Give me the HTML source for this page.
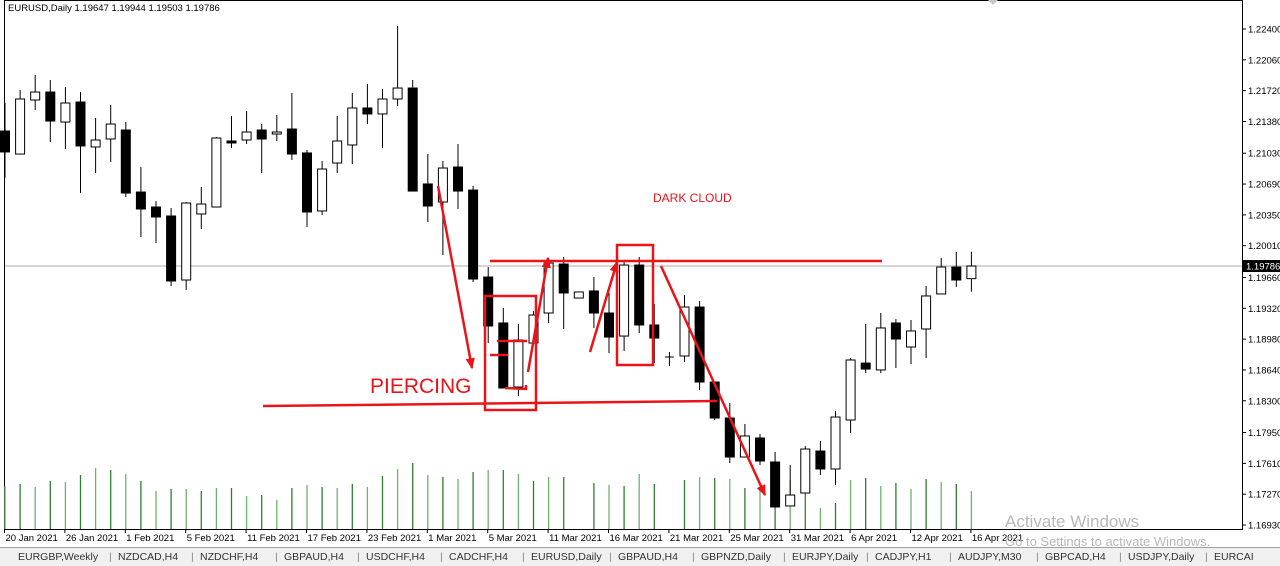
<!DOCTYPE html>
<html><head><meta charset="utf-8"><style>
body{margin:0;background:#fff;width:1280px;height:565px;overflow:hidden;font-family:"Liberation Sans",sans-serif}
svg{position:absolute;left:0;top:0}
#tabs{position:absolute;left:0;top:547px;width:1280px;height:18px;background:#f0f0f0;border-top:1px solid #a0a0a0;font-size:10.5px;color:#333}
#tabs span{position:absolute;top:3px;white-space:nowrap}
</style></head><body>
<svg id="chart" width="1280" height="565"></svg>
<div id="tabs"></div>
<script>
const opens=[1.21275,1.21021,1.21617,1.21705,1.21374,1.21595,1.21099,1.21187,1.21286,1.20602,1.20437,1.20338,1.19632,1.20360,1.20437,1.21165,1.21176,1.21286,1.21242,1.21297,1.21033,1.20393,1.20922,1.21121,1.21529,1.21463,1.21628,1.21749,1.20691,1.20492,1.20878,1.20624,1.19665,1.19158,1.18452,1.18937,1.19268,1.19808,1.19433,1.19511,1.19268,1.19014,1.19797,1.19136,1.18783,1.18794,1.19334,1.18507,1.18110,1.17680,1.17890,1.17625,1.17140,1.17283,1.17746,1.17548,1.18088,1.18716,1.18640,1.19158,1.18893,1.19092,1.19478,1.19775,1.19647];
const highs=[1.21584,1.21727,1.21893,1.21838,1.21760,1.21705,1.21419,1.21562,1.21374,1.20878,1.20503,1.20426,1.20492,1.20658,1.21209,1.21441,1.21496,1.21352,1.21452,1.21694,1.21066,1.20944,1.21441,1.21694,1.21793,1.21738,1.22433,1.21838,1.21021,1.20944,1.21132,1.20669,1.19775,1.19323,1.19147,1.19290,1.19875,1.19886,1.19500,1.19665,1.19489,1.19853,1.19886,1.19367,1.18838,1.19467,1.19400,1.18507,1.18276,1.18044,1.17934,1.17735,1.17592,1.17801,1.17856,1.18187,1.18772,1.19147,1.19268,1.19202,1.19191,1.19566,1.19875,1.19941,1.19944];
const lows=[1.20757,1.21021,1.21507,1.21154,1.21077,1.20591,1.20812,1.20933,1.20547,1.20106,1.20040,1.19566,1.19522,1.20194,1.20437,1.21088,1.21132,1.20812,1.21165,1.20955,1.20216,1.20349,1.20812,1.20911,1.21352,1.21088,1.21551,1.20702,1.20272,1.19908,1.20415,1.19610,1.18937,1.18441,1.18353,1.18937,1.19158,1.19092,1.19433,1.19103,1.18827,1.18849,1.19047,1.18716,1.18684,1.18728,1.18419,1.18088,1.17614,1.17680,1.17592,1.17129,1.17140,1.17283,1.17482,1.17371,1.17945,1.18606,1.18606,1.18662,1.18705,1.18772,1.19478,1.19555,1.19503];
const closes=[1.21044,1.21628,1.21705,1.21385,1.21584,1.21110,1.21176,1.21352,1.20591,1.20415,1.20327,1.19621,1.20481,1.20470,1.21198,1.21143,1.21264,1.21187,1.21264,1.21021,1.20382,1.20856,1.21165,1.21529,1.21463,1.21628,1.21749,1.20613,1.20448,1.20867,1.20613,1.19643,1.19125,1.18441,1.18970,1.19246,1.19819,1.19489,1.19500,1.19268,1.19003,1.19797,1.19136,1.18992,1.18783,1.19334,1.18507,1.18110,1.17680,1.17912,1.17636,1.17129,1.17261,1.17768,1.17548,1.18121,1.18750,1.18650,1.19103,1.18981,1.19070,1.19456,1.19775,1.19632,1.19786];
const volumes=[4300,4500,4200,4800,4700,5400,6100,5900,5500,4800,3800,4000,4000,3800,4100,4100,3300,3400,2900,4100,4400,4200,4100,4500,4200,5300,6000,6600,5400,5200,5000,5700,5900,5900,5500,4800,5200,5200,0,4600,4400,4300,5500,4500,0,4900,5200,5100,5000,4100,4600,4100,4900,4300,2100,2600,4900,5100,4300,4600,4000,5000,4700,4500,3800];
const dateLabels=["20 Jan 2021","26 Jan 2021","1 Feb 2021","5 Feb 2021","11 Feb 2021","17 Feb 2021","23 Feb 2021","1 Mar 2021","5 Mar 2021","11 Mar 2021","16 Mar 2021","21 Mar 2021","25 Mar 2021","31 Mar 2021","6 Apr 2021","12 Apr 2021","16 Apr 2021"];
const priceTicks=[1.22400,1.22060,1.21720,1.21380,1.21030,1.20690,1.20350,1.20010,1.19660,1.19320,1.18980,1.18640,1.18300,1.17950,1.17610,1.17270,1.16930];
const lastPrice=1.19786;
const tabNames=["EURGBP,Weekly","NZDCAD,H4","NZDCHF,H4","GBPAUD,H4","USDCHF,H4","CADCHF,H4","EURUSD,Daily","GBPAUD,H4","GBPNZD,Daily","EURJPY,Daily","CADJPY,H1","AUDJPY,M30","GBPCAD,H4","USDJPY,Daily","EURCAI"];

const NS="http://www.w3.org/2000/svg";
const svg=document.getElementById('chart');
function X(i){return 5+15.1*i;}
function Y(p){return 29+(1.224-p)*9068;}
function V(v){return 529-v/100;}
function mk(tag,attrs,parent){const e=document.createElementNS(NS,tag);for(const k in attrs)e.setAttribute(k,attrs[k]);(parent||svg).appendChild(e);return e;}

const frame=mk('rect',{x:4.5,y:0.5,width:1238,height:529,fill:'none',stroke:'#000','stroke-width':1});


const bid=mk('line',{x1:5,x2:1242,y1:Y(lastPrice),y2:Y(lastPrice),stroke:'#c8c8c8','stroke-width':1.5});


volumes.forEach((v,i)=>{if(!v)return;
 const l=mk('line',{x1:X(i),x2:X(i),y1:V(v),y2:529,stroke:i%2?'#2f7f2f':'#6cb46c','stroke-width':1.3});
 
 
});
opens.forEach((o,i)=>{
 const g=mk('g',{});
 
 
 const x=X(i),c=closes[i];
 mk('line',{x1:x,x2:x,y1:Y(highs[i]),y2:Y(lows[i]),stroke:'#000','stroke-width':1},g);
 const top=Math.min(Y(o),Y(c)),h=Math.max(1,Math.abs(Y(o)-Y(c)));
 if(o===c){mk('line',{x1:x-4.5,x2:x+4.5,y1:top,y2:top,stroke:'#000','stroke-width':1},g);}
 else mk('rect',{x:x-4.5,y:top,width:9,height:h,fill:c>o?'#fff':'#000',stroke:'#000','stroke-width':1},g);
});
priceTicks.forEach(p=>{
 const y=Y(p);
 mk('line',{x1:1242,x2:1246,y1:y,y2:y,stroke:'#000'});
 const t=mk('text',{x:1248,y:y+3.5,'font-size':9.5,fill:'#000'});t.textContent=p.toFixed(5);
 
 
});
const lp=mk('rect',{x:1243,y:Y(lastPrice)-6,width:37,height:12,fill:'#000'});


const lpt=mk('text',{x:1246,y:Y(lastPrice)+3.5,'font-size':9.5,fill:'#fff'});lpt.textContent=lastPrice.toFixed(5);


dateLabels.forEach((d,k)=>{
 const x=X(k*4)-0.5;
 mk('line',{x1:x,x2:x,y1:529,y2:533,stroke:'#000'});
 const t=mk('text',{x:x+1,y:541,'font-size':9.5,fill:'#000'});t.textContent=d;
 
 
});
const hd=mk('text',{x:8,y:11,'font-size':9.5,fill:'#000'});hd.textContent='EURUSD,Daily  1.19647 1.19944 1.19503 1.19786';


mk('path',{d:'M988 0 L993 5 L998 0 Z',fill:'#c8c8c8'});
const ann=mk('g',{stroke:'#e8141a','stroke-width':2.5,fill:'none'});


mk('line',{x1:490,y1:261,x2:882,y2:261},ann);
mk('line',{x1:263,y1:406,x2:717,y2:401},ann);
mk('rect',{x:485,y:296,width:51,height:114},ann);
mk('rect',{x:617,y:245,width:36,height:120},ann);
mk('line',{x1:497,y1:341,x2:527,y2:341},ann);
mk('line',{x1:490,y1:355,x2:508,y2:355},ann);
mk('path',{d:'M505 388 L526 389 L526 385'},ann);
function arrow(x1,y1,x2,y2){
 mk('line',{x1,y1,x2,y2},ann);
 const a=Math.atan2(y2-y1,x2-x1),L=10,w=0.4;
 mk('path',{d:`M${x2} ${y2} L${x2-L*Math.cos(a-w)} ${y2-L*Math.sin(a-w)} L${x2-L*Math.cos(a+w)} ${y2-L*Math.sin(a+w)} Z`,fill:'#e8141a','stroke-width':1},ann);
}
arrow(438,186,472,368);
arrow(528,372,548,258);
arrow(590,352,617,262);
arrow(661,266,765,495);
const pt=mk('text',{x:370,y:393,'font-size':21,fill:'#e8141a'});pt.textContent='PIERCING';


const dc=mk('text',{x:653,y:202,'font-size':12,fill:'#e8141a'});dc.textContent='DARK CLOUD';


const w1=mk('text',{x:1005,y:527,'font-size':17,fill:'#b8b8b8'});w1.textContent='Activate Windows';


const w2=mk('text',{x:1005,y:546,'font-size':13,fill:'#b8b8b8'});w2.textContent='Go to Settings to activate Windows.';


const tabs=document.getElementById('tabs');
const tabX=[18,118,200,284,366,449,531,618,701,792,875,958,1045,1128,1214];
tabNames.forEach((n,i)=>{
 const s=document.createElement('span');s.textContent=n;s.style.left=tabX[i]+'px';
 
 
 tabs.appendChild(s);
 if(i>0){const b=document.createElement('span');b.textContent='|';b.style.left=(tabX[i]-9)+'px';b.style.color='#888';tabs.appendChild(b);}
});
</script>
</body></html>
